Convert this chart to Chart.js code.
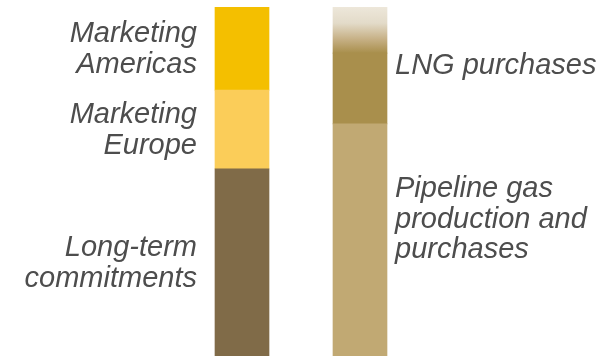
<!DOCTYPE html>
<html>
<head>
<meta charset="utf-8">
<script src="https://cdn.jsdelivr.net/npm/chart.js@4"></script>
<style>
  body { margin: 0; background: #fff; }
</style>
</head>
<body>
<canvas id="mycanvas" width="615" height="356"></canvas>
<script>
// two stacked columns: gas sales (left) and gas supply (right), shares in %
var columns = ['Sales', 'Supply'];
var bottomPart = [53.6, 66.5];   // long-term commitments / pipeline gas
var middlePart = [22.6, 20.3];   // marketing Europe / LNG purchases
var topPart = [23.8, 13.2];      // marketing Americas / open supply (faded)

var segLabels = [
  [['Long-term', 'commitments'], ['Pipeline gas', 'production and', 'purchases']],
  [['Marketing', 'Europe'], ['LNG purchases']],
  [['Marketing', 'Americas'], []]
];

// nudge for the right-hand labels, which sit above their segment centre
var labelShift = [[0, -21], [0, -23], [0, 0]];

function fadeFill(context) {
  var chart = context.chart;
  var area = chart.chartArea;
  if (!area) return '#ede7da';
  var y = chart.scales.y;
  var top = y.getPixelForValue(bottomPart[1] + middlePart[1] + topPart[1]);
  var bot = y.getPixelForValue(bottomPart[1] + middlePart[1]);
  var g = chart.ctx.createLinearGradient(0, top, 0, bot);
  g.addColorStop(0, '#ede7da');
  g.addColorStop(0.35, '#e3dbc9');
  g.addColorStop(0.7, '#c6b085');
  g.addColorStop(1, '#a98f4c');
  return g;
}

var textPlugin = {
  id: 'segText',
  afterDatasetsDraw: function(chart) {
    var ctx = chart.ctx;
    ctx.save();
    ctx.font = "italic 29px 'Liberation Sans', Arial, sans-serif";
    ctx.fillStyle = '#4d4d4d';
    ctx.textBaseline = 'alphabetic';
    var lh = 30.5;
    for (var d = 0; d < segLabels.length; d++) {
      var meta = chart.getDatasetMeta(d);
      for (var i = 0; i < columns.length; i++) {
        var lines = segLabels[d][i];
        if (!lines.length) continue;
        var el = meta.data[i];
        var cy = (el.y + el.base) / 2 + 9 + labelShift[d][i];
        var x;
        if (i === 0) {
          ctx.textAlign = 'right';
          x = el.x - el.width / 2 - 18;
        } else {
          ctx.textAlign = 'left';
          x = el.x + el.width / 2 + 8;
        }
        for (var k = 0; k < lines.length; k++) {
          ctx.fillText(lines[k], x, cy + (k - (lines.length - 1) / 2) * lh);
        }
      }
    }
    ctx.restore();
  }
};

var chartdata = {
  labels: columns,
  datasets: [
    { data: bottomPart, backgroundColor: ['#806b48', '#c1a973'] },
    { data: middlePart, backgroundColor: ['#fbcd59', '#a98f4c'] },
    {
      data: topPart,
      backgroundColor: function(context) {
        return context.dataIndex === 0 ? '#f4bf00' : fadeFill(context);
      }
    }
  ]
};

var barGraph = new Chart(document.getElementById('mycanvas'), {
  type: 'bar',
  data: chartdata,
  options: {
    responsive: false,
    animation: false,
    devicePixelRatio: 1,
    layout: { padding: { left: 183, right: 196, top: 7, bottom: 0 } },
    datasets: { bar: { barThickness: 54, borderWidth: 0 } },
    scales: {
      x: { stacked: true, display: false },
      y: { stacked: true, display: false, min: 0, max: 100 }
    },
    plugins: {
      legend: { display: false },
      tooltip: { enabled: false }
    }
  },
  plugins: [textPlugin]
});
</script>
</body>
</html>
